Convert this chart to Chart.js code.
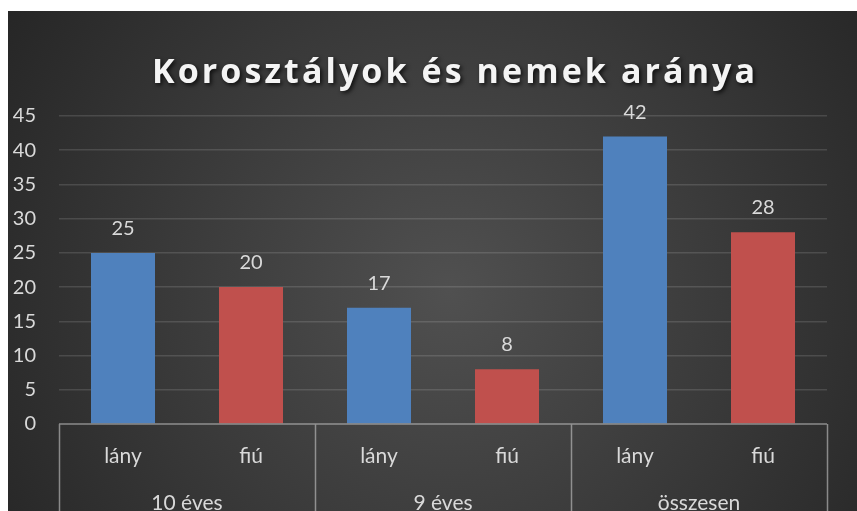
<!DOCTYPE html>
<html>
<head>
  <meta charset="utf-8" />
  <title>Korosztályok és nemek aránya</title>
  <script src="https://cdn.jsdelivr.net/npm/chart.js"></script>
  <style>
    body {
      background: white;
      margin: 0;
      width: 857px;
      height: 511px;
      overflow: hidden;
    }
    #chart-container {
      position: absolute;
      left: 8px;
      top: 11px;
      width: 849px;
      height: 500px;
    }
  </style>
</head>
<body>

  <div id="chart-container">
    <canvas id="ageChart"></canvas>
  </div>

  <script>
    const chartTitle = 'Korosztályok és nemek aránya';
    const groups = ['10 éves', '9 éves', 'összesen'];
    const genders = ['lány', 'fiú'];
    const lanyValues = [25, 17, 42];
    const fiuValues = [20, 8, 28];
    const genderColors = ['#4F81BD', '#C0504D'];
    const yMin = 0, yMax = 45, yStep = 5;

    // one bar per (group, gender) pair
    const labels = [];
    const values = [];
    const colors = [];
    groups.forEach((g, i) => {
      genders.forEach((s, j) => {
        labels.push(s);
        values.push(j === 0 ? lanyValues[i] : fiuValues[i]);
        colors.push(genderColors[j]);
      });
    });

    const textColor = '#d9d9d9';
    const fontFamily = 'Lato, "Open Sans", sans-serif';

    const backgroundPlugin = {
      id: 'background',
      beforeDraw(chart) {
        const { ctx, width, height } = chart;
        const g = ctx.createRadialGradient(width * 0.52, height * 0.56, 0, width * 0.52, height * 0.56, width * 0.62);
        g.addColorStop(0, '#505050');
        g.addColorStop(1, '#262626');
        ctx.save();
        ctx.fillStyle = g;
        ctx.fillRect(0, 0, width, height);
        ctx.restore();
      }
    };

    const axisPlugin = {
      id: 'groupAxis',
      afterDatasetsDraw(chart) {
        const { ctx, chartArea: area, height } = chart;
        const x = chart.scales.x;
        const half = (x.getPixelForValue(1) - x.getPixelForValue(0)) / 2;
        ctx.save();

        // value labels above the bars
        ctx.fillStyle = textColor;
        ctx.font = '20px ' + fontFamily;
        ctx.textAlign = 'center';
        ctx.textBaseline = 'alphabetic';
        chart.getDatasetMeta(0).data.forEach((bar, i) => {
          ctx.fillText(String(values[i]), bar.x, bar.y - 18);
        });

        // axis line and group boxes
        ctx.strokeStyle = 'rgba(200,200,200,0.6)';
        ctx.lineWidth = 1.5;
        ctx.beginPath();
        ctx.moveTo(area.left, area.bottom);
        ctx.lineTo(area.right, area.bottom);
        for (let gi = 0; gi <= groups.length; gi++) {
          const px = Math.round(x.getPixelForValue(gi * 2) - half) + 0.5;
          ctx.moveTo(px, area.bottom);
          ctx.lineTo(px, height);
        }
        ctx.stroke();

        // gender labels
        ctx.font = '21px ' + fontFamily;
        labels.forEach((l, i) => {
          ctx.fillText(l, x.getPixelForValue(i), area.bottom + 39);
        });
        // group labels
        groups.forEach((g, gi) => {
          const cx = (x.getPixelForValue(gi * 2) + x.getPixelForValue(gi * 2 + 1)) / 2;
          ctx.fillText(g, cx, area.bottom + 86);
        });
        ctx.restore();
      }
    };

    // title with wide letter spacing, stretched to the reference width
    const titlePlugin = {
      id: 'spacedTitle',
      afterDraw(chart) {
        const ctx = chart.ctx;
        const targetWidth = 603;
        ctx.save();
        ctx.font = 'bold 34px "Open Sans", sans-serif';
        ctx.letterSpacing = '0px';
        const w = ctx.measureText(chartTitle).width;
        const spacing = (targetWidth - w) / (chartTitle.length - 1);
        ctx.letterSpacing = spacing + 'px';
        ctx.textAlign = 'left';
        ctx.textBaseline = 'alphabetic';
        ctx.shadowColor = 'rgba(0,0,0,0.75)';
        ctx.shadowBlur = 4;
        ctx.shadowOffsetX = 2;
        ctx.shadowOffsetY = 2;
        ctx.fillStyle = '#f4f4f4';
        ctx.fillText(chartTitle, 445.5 - targetWidth / 2, 72);
        ctx.restore();
      }
    };

    const ctx = document.getElementById('ageChart').getContext('2d');
    new Chart(ctx, {
      type: 'bar',
      data: {
        labels: labels,
        datasets: [{
          data: values,
          backgroundColor: colors,
          borderWidth: 0,
          barPercentage: 0.5,
          categoryPercentage: 1.0
        }]
      },
      options: {
        responsive: true,
        maintainAspectRatio: false,
        animation: false,
        layout: {
          padding: { left: 0, top: 105, right: 30, bottom: 87 }
        },
        plugins: {
          legend: { display: false },
          title: { display: false },
          tooltip: { enabled: false }
        },
        scales: {
          x: {
            display: false
          },
          y: {
            min: yMin,
            max: yMax,
            afterFit(scale) { scale.width = 51; },
            ticks: {
              stepSize: yStep,
              padding: 23,
              color: textColor,
              font: { family: fontFamily, size: 20 }
            },
            grid: {
              color: c => c.tick.value === 0 ? 'rgba(0,0,0,0)' : 'rgba(255,255,255,0.13)',
              lineWidth: 1.5,
              drawTicks: false
            },
            border: { display: false }
          }
        }
      },
      plugins: [backgroundPlugin, axisPlugin, titlePlugin]
    });
  </script>

</body>
</html>
